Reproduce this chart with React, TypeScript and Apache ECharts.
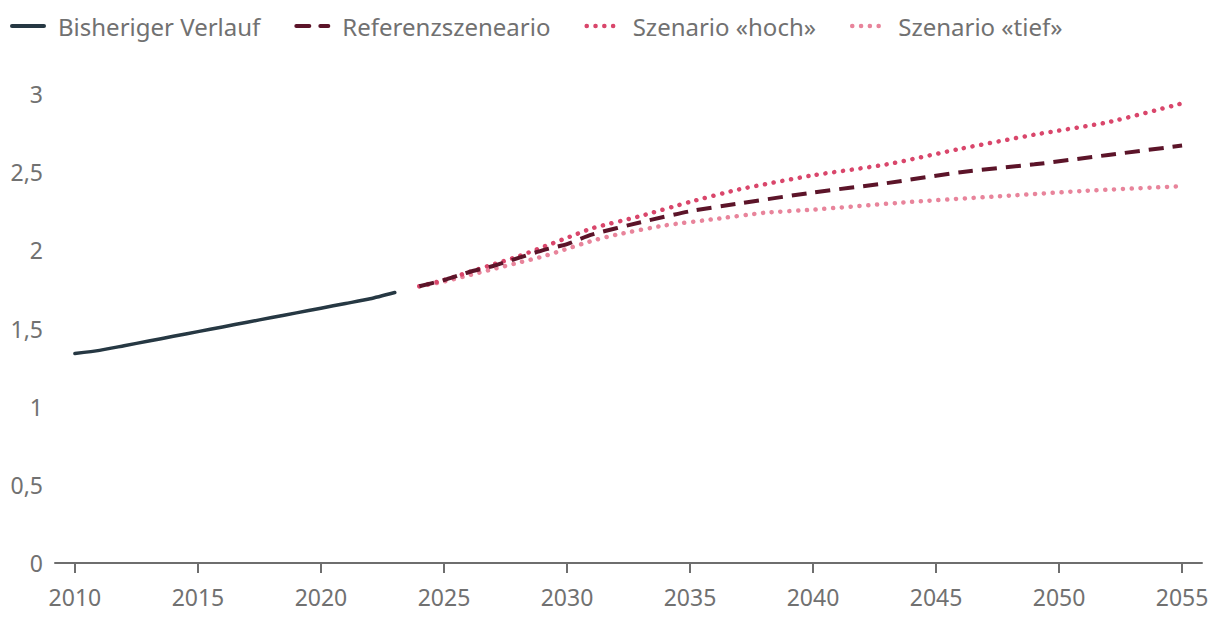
import React, { useEffect, useRef } from "react";
import * as echarts from "echarts";

const histYears = [2010, 2011, 2012, 2013, 2014, 2015, 2016, 2017, 2018, 2019, 2020, 2021, 2022, 2023];
const histValues = [1.34, 1.36, 1.39, 1.42, 1.45, 1.48, 1.51, 1.54, 1.57, 1.60, 1.63, 1.66, 1.69, 1.73];

const refYears = [2024, 2025, 2026, 2027, 2028, 2029, 2030, 2031, 2033, 2035, 2037, 2040, 2043, 2046, 2049, 2052, 2055];
const refValues = [1.77, 1.81, 1.86, 1.90, 1.95, 2.00, 2.04, 2.10, 2.18, 2.25, 2.30, 2.37, 2.43, 2.50, 2.55, 2.61, 2.67];

const highYears = [2024, 2025, 2026, 2027, 2028, 2029, 2030, 2031, 2033, 2035, 2037, 2040, 2043, 2046, 2049, 2052, 2055];
const highValues = [1.77, 1.81, 1.86, 1.91, 1.96, 2.02, 2.08, 2.14, 2.22, 2.31, 2.39, 2.48, 2.55, 2.65, 2.74, 2.82, 2.94];

const lowYears = [2024, 2025, 2026, 2027, 2028, 2029, 2030, 2031, 2032, 2034, 2036, 2038, 2040, 2044, 2048, 2051, 2055];
const lowValues = [1.77, 1.80, 1.84, 1.88, 1.92, 1.96, 2.01, 2.06, 2.10, 2.16, 2.20, 2.24, 2.26, 2.31, 2.35, 2.38, 2.41];

const xTickValues = [2010, 2015, 2020, 2025, 2030, 2035, 2040, 2045, 2050, 2055];

const seriesNames = ["Bisheriger Verlauf", "Referenzszeneario", "Szenario «hoch»", "Szenario «tief»"];

const zip = (xs: number[], ys: number[]) => xs.map((x, i) => [x, ys[i]]);

const FONT = "Noto Sans";
const TEXT_COLOR = "#717171";

export default function App() {
  const ref = useRef<HTMLDivElement>(null);
  useEffect(() => {
    document.body.style.margin = "0";
    if (!ref.current) return;
    const chart = echarts.init(ref.current, undefined, { renderer: "svg" });
    chart.setOption({
      animation: false,
      textStyle: { fontFamily: FONT },
      legend: {
        left: 10,
        top: 14,
        padding: 0,
        itemWidth: 32,
        itemHeight: 14,
        itemGap: 34,
        itemStyle: { opacity: 0 },
        textStyle: { fontFamily: FONT, fontSize: 24, color: TEXT_COLOR, padding: [0, 0, 0, 9] },
        data: [
          { name: seriesNames[0], lineStyle: { width: 4, cap: "round" } },
          { name: seriesNames[1], lineStyle: { width: 4, cap: "round", type: [13, 11] } },
          { name: seriesNames[2], lineStyle: { width: 4.5, cap: "round", type: [0.1, 8.7] } },
          { name: seriesNames[3], lineStyle: { width: 4.5, cap: "round", type: [0.1, 8.7] } },
        ],
      },
      grid: { left: 55, right: 18, top: 94, bottom: 69 },
      xAxis: {
        type: "value",
        min: 2009.19,
        max: 2055.81,
        splitLine: { show: false },
        axisLine: { show: true, lineStyle: { color: "#6e6e6e", width: 2 } },
        axisTick: { show: true, length: 10, lineStyle: { color: "#6e6e6e", width: 2 }, customValues: xTickValues },
        axisLabel: {
          customValues: xTickValues,
          fontFamily: FONT,
          fontSize: 23,
          color: TEXT_COLOR,
          margin: 22,
          formatter: (v: number) => String(Math.round(v)),
        },
      },
      yAxis: {
        type: "value",
        min: 0,
        max: 3,
        interval: 0.5,
        splitLine: { show: false },
        axisLine: { show: false },
        axisTick: { show: false },
        axisLabel: {
          fontFamily: FONT,
          fontSize: 23,
          color: TEXT_COLOR,
          margin: 12,
          formatter: (v: number) => String(v).replace(".", ","),
        },
      },
      series: [
        {
          name: seriesNames[0],
          type: "line",
          data: zip(histYears, histValues),
          symbol: "none",
          smooth: 0.2,
          lineStyle: { color: "#263843", width: 3.5, cap: "round" },
          itemStyle: { color: "#263843" },
        },
        {
          name: seriesNames[1],
          type: "line",
          data: zip(refYears, refValues),
          symbol: "none",
          smooth: 0.2,
          z: 4,
          lineStyle: { color: "#5c1429", width: 4, type: [15, 9], cap: "butt" },
          itemStyle: { color: "#5c1429" },
        },
        {
          name: seriesNames[2],
          type: "line",
          data: zip(highYears, highValues),
          symbol: "none",
          smooth: 0.2,
          z: 3,
          lineStyle: { color: "#d9466b", width: 4.5, type: [0.1, 8.7], cap: "round" },
          itemStyle: { color: "#d9466b" },
        },
        {
          name: seriesNames[3],
          type: "line",
          data: zip(lowYears, lowValues),
          symbol: "none",
          smooth: 0.2,
          z: 2,
          lineStyle: { color: "#e8849b", width: 4.5, type: [0.1, 8.7], cap: "round" },
          itemStyle: { color: "#e8849b" },
        },
      ],
    });
    return () => chart.dispose();
  }, []);
  return <div ref={ref} style={{ width: 1220, height: 632 }} />;
}
